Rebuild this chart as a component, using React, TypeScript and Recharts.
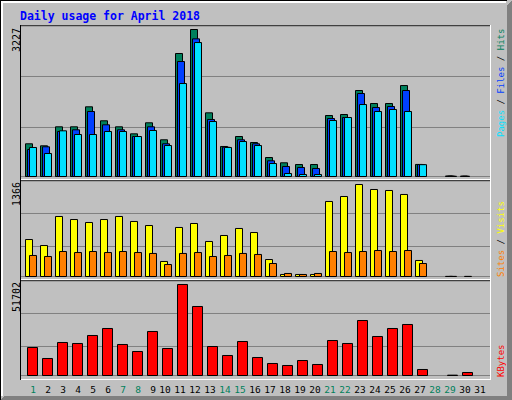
import React from 'react'
import { BarChart, Bar, XAxis, YAxis, CartesianGrid } from 'recharts'

const days = ['1', '2', '3', '4', '5', '6', '7', '8', '9', '10', '11', '12', '13', '14', '15', '16',
  '17', '18', '19', '20', '21', '22', '23', '24', '25', '26', '27', '28', '29', '30', '31']
const weekendDays = ['1', '7', '8', '14', '15', '21', '22', '28', '29']

const hits = [718, 674, 1091, 1091, 1530, 1223, 1091, 937, 1179, 806, 2700, 3227, 1398, 659, 878, 746,
  417, 301, 263, 263, 1339, 1361, 1888, 1602, 1602, 1997, 265, 0, 12, 10, 0]
const files = [593, 652, 988, 1025, 1427, 1135, 1025, 878, 1091, 718, 2524, 3022, 1251, 643, 806, 718,
  345, 220, 198, 176, 1273, 1295, 1822, 1515, 1537, 1888, 262, 0, 9, 7, 0]
const pages = [637, 505, 1003, 922, 922, 988, 988, 878, 1010, 680, 2041, 2941, 1207, 637, 768, 680,
  285, 66, 44, 44, 1229, 1295, 1580, 1427, 1471, 1427, 260, 0, 6, 0, 0]
const visits = [549, 460, 891, 846, 802, 846, 891, 817, 757, 223, 728, 787, 520, 609, 713, 653,
  252, 30, 30, 30, 1114, 1188, 1366, 1292, 1277, 1218, 238, 0, 2, 0, 0]
const sites = [312, 297, 371, 356, 371, 356, 371, 356, 342, 178, 342, 356, 297, 312, 342, 327,
  193, 45, 30, 45, 371, 356, 371, 386, 371, 386, 193, 0, 2, 2, 0]
const kbytes = [15908, 9659, 18749, 18181, 22726, 26703, 17613, 13636, 24999, 15340, 51702, 39203, 16476,
  11363, 19317, 10227, 6818, 5682, 8522, 6250, 19885, 18181, 31248, 22158, 26703, 28976, 3409, 0, 200, 1705, 0]

const data = days.map((day, i) => ({
  day, hits: hits[i], files: files[i], pages: pages[i],
  visits: visits[i], sites: sites[i], kbytes: kbytes[i],
}))

const W = 512
const H = 400
const mono = '"DejaVu Sans Mono", monospace'

const C = {
  hits: '#00805c', files: '#0040ff', pages: '#00e0ff',
  visits: '#ffff00', sites: '#ff8000', kbytes: '#ff0000',
  bg: '#c0c0c0', grid: '#808080', shadow: '#808080',
}

// the max value sits a few px under each panel top, like webalizer draws it
const hitsTop = 3304
const visitsTop = 1418
const kbytesTop = 53690

const DayTick = ({ x, y, payload }: any) => {
  const label = String(payload.value)
  const weekend = weekendDays.includes(label)
  return (
    <text x={x + (label.length === 1 ? 1 : -2)} y={y + 17.5} textAnchor="middle"
      fontFamily={mono} fontSize={9.5} fill={weekend ? C.hits : '#000'}>
      {label}
    </text>
  )
}

const layer: React.CSSProperties = { position: 'absolute', left: 0, top: 0 }

function Frame() {
  return (
    <svg width={W} height={H} style={layer} shapeRendering="crispEdges">
      <rect width={W} height={H} fill={C.bg} />
      <path d="M0.5 400 V0.5 H507" stroke="#000" fill="none" />
      <path d="M1.5 396 V1.5 H506 M2.5 396 V2.5 H506" stroke="#fff" fill="none" />
      <polygon points="507,5 512,0 512,400 507,400" fill={C.shadow} />
      <polygon points="0,400 4,396 512,396 512,400" fill={C.shadow} />
      <path d="M20 25.5 H490 M20.5 25 V380 M20 180.5 H490 M20 280.5 H490" stroke="#000" fill="none" />
      <path d="M490.5 25 V380 M21 179.5 H491 M21 279.5 H491 M21 379.5 H491" stroke="#fff" fill="none" />
    </svg>
  )
}

function Labels() {
  return (
    <svg width={W} height={H} style={layer}>
      <text x={20} y={19.5} fontFamily={mono} fontWeight="bold" fontSize={11.5} fill="#0000ff">
        Daily usage for April 2018
      </text>
      <g fontFamily={mono} fontSize={10} fill="#000" textAnchor="end">
        <text x={19.5} y={28} transform="rotate(-90 19.5 28)">{Math.max(...hits)}</text>
        <text x={19.5} y={182} transform="rotate(-90 19.5 182)">{Math.max(...visits)}</text>
        <text x={19.5} y={282} transform="rotate(-90 19.5 282)">{Math.max(...kbytes)}</text>
      </g>
      <g fontFamily={mono} fontSize={9} style={{ whiteSpace: 'pre' }}>
        <text x={503.5} y={137} transform="rotate(-90 503.5 137)">
          <tspan fill={C.pages}>Pages</tspan>
          <tspan fill="#000"> / </tspan>
          <tspan fill={C.files}>Files</tspan>
          <tspan fill="#000"> / </tspan>
          <tspan fill={C.hits}>Hits</tspan>
        </text>
        <text x={503.5} y={277} transform="rotate(-90 503.5 277)">
          <tspan fill={C.sites}>Sites</tspan>
          <tspan fill="#000"> / </tspan>
          <tspan fill={C.visits}>Visits</tspan>
        </text>
        <text x={503.5} y={377} transform="rotate(-90 503.5 377)">
          <tspan fill={C.kbytes}>KBytes</tspan>
        </text>
      </g>
    </svg>
  )
}

export default function App() {
  return (
    <div style={{ position: 'absolute', left: 0, top: 0, width: W, height: H, overflow: 'hidden' }}>
      <Frame />

      <div style={layer}>
        <BarChart width={W} height={H} data={data} barGap={-5}
          margin={{ top: 26, right: 22, bottom: 223.5, left: 21 }}>
          <CartesianGrid vertical={false} stroke={C.grid} />
          <XAxis dataKey="day" hide padding={{ left: 2.5, right: 1.5 }} />
          <YAxis hide domain={[0, hitsTop]} ticks={[hitsTop * 0.3256, hitsTop * 0.6645]} />
          <Bar dataKey="hits" fill={C.hits} stroke="#000" barSize={7} isAnimationActive={false} />
          <Bar dataKey="files" fill={C.files} stroke="#000" barSize={7} isAnimationActive={false} />
          <Bar dataKey="pages" fill={C.pages} stroke="#000" barSize={7} isAnimationActive={false} />
        </BarChart>
      </div>

      <div style={layer}>
        <BarChart width={W} height={H} data={data} barGap={-3}
          margin={{ top: 181, right: 22, bottom: 123.5, left: 21 }}>
          <CartesianGrid vertical={false} stroke={C.grid} />
          <XAxis dataKey="day" hide padding={{ left: 2.5, right: 1.5 }} />
          <YAxis hide domain={[0, visitsTop]} ticks={[visitsTop * 0.3141, visitsTop * 0.6597]} />
          <Bar dataKey="visits" fill={C.visits} stroke="#000" barSize={7} isAnimationActive={false} />
          <Bar dataKey="sites" fill={C.sites} stroke="#000" barSize={7} isAnimationActive={false} />
        </BarChart>
      </div>

      <div style={layer}>
        <BarChart width={W} height={H} data={data}
          margin={{ top: 281, right: 22, bottom: 0.5, left: 21 }}>
          <CartesianGrid vertical={false} stroke={C.grid} />
          <XAxis dataKey="day" height={24} padding={{ left: 3.5, right: 0.5 }} axisLine={false}
            tickLine={false} tickSize={0} tickMargin={0} interval={0} tick={<DayTick />} />
          <YAxis hide domain={[0, kbytesTop]} ticks={[kbytesTop * 0.3069, kbytesTop * 0.6561]} />
          <Bar dataKey="kbytes" fill={C.kbytes} stroke="#000" barSize={10} isAnimationActive={false} />
        </BarChart>
      </div>

      <Labels />
    </div>
  )
}
